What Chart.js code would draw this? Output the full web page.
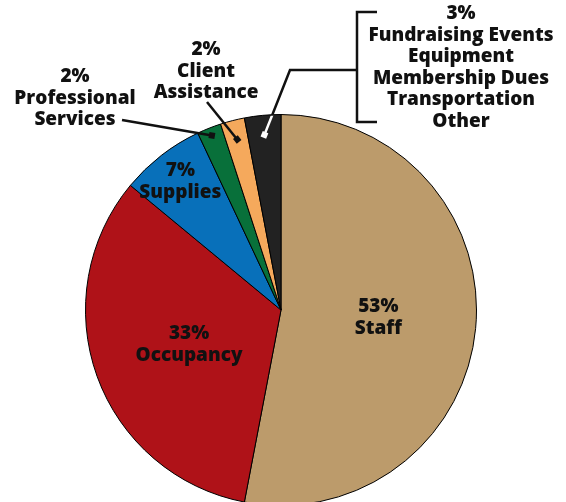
<!DOCTYPE html>
<html>
<head>
<meta charset="utf-8">
<script src="https://cdn.jsdelivr.net/npm/chart.js@4"></script>
<style>
  html, body { margin: 0; padding: 0; background: #fff; overflow: hidden; }
  #wrap { width: 566px; height: 520px; }
</style>
</head>
<body>
<div id="wrap"><canvas id="expenseChart" width="566" height="520"></canvas></div>
<script>
// --- Data ---
const categories = ['Staff', 'Occupancy', 'Supplies', 'Professional Services', 'Client Assistance', 'Other'];
const percents = [53, 33, 7, 2, 2, 3];
const sliceColors = ['#BC9B6B', '#AF1218', '#0870BA', '#08703A', '#F5A95C', '#222222'];

// label text per slice (lines)
const labelLines = [
    ['53%', 'Staff'],
    ['33%', 'Occupancy'],
    ['7%', 'Supplies'],
    ['2%', 'Professional', 'Services'],
    ['2%', 'Client', 'Assistance'],
    ['3%', 'Fundraising Events', 'Equipment', 'Membership Dues', 'Transportation', 'Other']
];

const FONT = '800 19px "Open Sans", "DejaVu Sans", sans-serif';
const LINE_H = 21.5;
const INK = '#111111';

// inside labels: fraction of radius along the slice's mid angle, baseline nudge
const insideLabels = {
    0: { frac: 0.5, dy: -7 },
    1: { frac: 0.5, dy: -4 },
    2: { frac: 0.84, dy: -4 }
};
// outside labels: text block anchor (center x, first baseline)
const outsideLabels = {
    3: { x: 75, y: 82 },
    4: { x: 206, y: 55 },
    5: { x: 461, y: 19 }
};

function pointOnArc(arc, frac) {
    const mid = (arc.startAngle + arc.endAngle) / 2;
    return {
        x: arc.x + Math.cos(mid) * arc.outerRadius * frac,
        y: arc.y + Math.sin(mid) * arc.outerRadius * frac
    };
}

function drawBlock(ctx, lines, cx, firstBaseline) {
    ctx.fillStyle = INK;
    ctx.font = FONT;
    ctx.textAlign = 'center';
    ctx.textBaseline = 'alphabetic';
    lines.forEach((t, i) => ctx.fillText(t, cx, firstBaseline + i * LINE_H));
}

function marker(ctx, x, y, fromX, fromY, color) {
    const a = Math.atan2(y - fromY, x - fromX);
    ctx.save();
    ctx.translate(x, y);
    ctx.rotate(a);
    ctx.fillStyle = color;
    ctx.fillRect(-3, -3, 6, 6);
    ctx.restore();
}

const labelPlugin = {
    id: 'sliceLabels',
    afterDatasetsDraw(chart) {
        const ctx = chart.ctx;
        const arcs = chart.getDatasetMeta(0).data;
        ctx.save();

        // inside labels
        Object.keys(insideLabels).forEach(k => {
            const p = pointOnArc(arcs[k], insideLabels[k].frac);
            drawBlock(ctx, labelLines[k], p.x, p.y + insideLabels[k].dy);
        });

        // outside labels
        Object.keys(outsideLabels).forEach(k => {
            const o = outsideLabels[k];
            drawBlock(ctx, labelLines[k], o.x, o.y);
        });

        ctx.strokeStyle = INK;
        ctx.lineWidth = 2.5;
        ctx.lineCap = 'butt';

        // Professional Services leader
        const pEnd = pointOnArc(arcs[3], 0.96);
        ctx.beginPath();
        ctx.moveTo(122, 120);
        ctx.lineTo(pEnd.x, pEnd.y);
        ctx.stroke();
        marker(ctx, pEnd.x, pEnd.y, 122, 120, INK);

        // Client Assistance leader
        const cEnd = pointOnArc(arcs[4], 0.9);
        ctx.beginPath();
        ctx.moveTo(207, 102);
        ctx.lineTo(cEnd.x, cEnd.y);
        ctx.stroke();
        marker(ctx, cEnd.x, cEnd.y, 207, 102, INK);

        // Other: bracket + elbow leader
        const bx = 357;
        ctx.beginPath();
        ctx.moveTo(377, 12);
        ctx.lineTo(bx, 12);
        ctx.lineTo(bx, 122);
        ctx.lineTo(377, 122);
        ctx.stroke();

        const oEnd = pointOnArc(arcs[5], 0.9);
        const elbow = { x: 290, y: 70 };
        ctx.beginPath();
        ctx.moveTo(bx, elbow.y);
        ctx.lineTo(elbow.x, elbow.y);
        ctx.lineTo(oEnd.x, oEnd.y);
        ctx.stroke();

        // part inside the pie drawn white
        const a = arcs[5];
        ctx.save();
        ctx.beginPath();
        ctx.arc(a.x, a.y, a.outerRadius - 1, 0, Math.PI * 2);
        ctx.clip();
        ctx.strokeStyle = '#ffffff';
        ctx.beginPath();
        ctx.moveTo(elbow.x, elbow.y);
        ctx.lineTo(oEnd.x, oEnd.y);
        ctx.stroke();
        ctx.restore();
        marker(ctx, oEnd.x, oEnd.y, elbow.x, elbow.y, '#ffffff');

        ctx.restore();
    }
};

// --- Chart Config ---
new Chart(document.getElementById('expenseChart').getContext('2d'), {
    type: 'pie',
    data: {
        labels: categories,
        datasets: [{
            data: percents,
            backgroundColor: sliceColors,
            borderColor: '#000000',
            borderWidth: 1
        }]
    },
    options: {
        responsive: false,
        animation: false,
        events: [],
        layout: { padding: { left: 85, right: 89, top: 114, bottom: 14 } },
        plugins: {
            legend: { display: false },
            tooltip: { enabled: false }
        }
    },
    plugins: [labelPlugin]
});
</script>
</body>
</html>
